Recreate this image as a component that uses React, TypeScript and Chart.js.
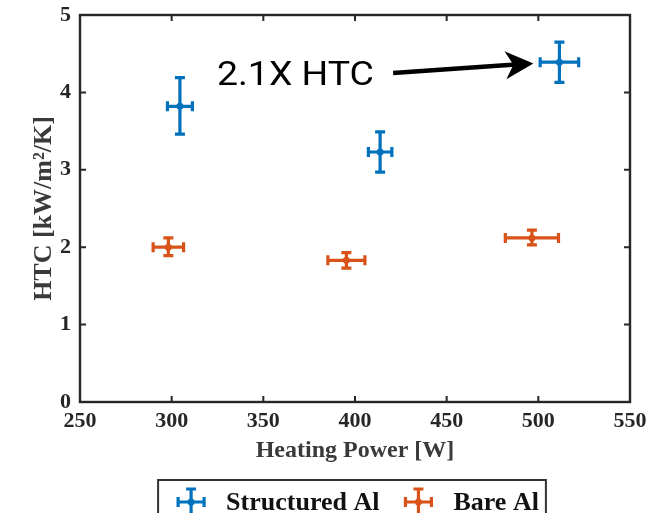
import React, { useEffect, useRef } from "react";
import { Chart, registerables } from "chart.js";

Chart.register(...registerables);

// ---- data ----
const structuredPower = [304.5, 413.7, 511.5];
const structuredHTC = [3.82, 3.23, 4.39];
const structuredHTCErrLow = [0.36, 0.26, 0.26];
const structuredHTCErrHigh = [0.37, 0.26, 0.26];
const structuredPowerErr = [6.8, 6.4, 10.5];

const barePower = [298.2, 395.3, 496.5];
const bareHTC = [2.0, 1.83, 2.12];
const bareHTCErrLow = [0.11, 0.1, 0.09];
const bareHTCErrHigh = [0.12, 0.1, 0.1];
const barePowerErr = [8.3, 10.1, 14.5];

const xTickValues = [250, 300, 350, 400, 450, 500, 550];
const yTickValues = [0, 1, 2, 3, 4, 5];

const seriesNames = ["Structured Al", "Bare Al"];
const xTitle = "Heating Power [W]";
const yTitle = "HTC [kW/m\u00B2/K]";

const annotationText = "2.1X HTC";
const annotationTextAt = [324.7, 4.095]; // (power, HTC) of text left/baseline
const arrowFrom = [420.8, 4.25];
const arrowTo = [497.3, 4.375];

// ---- styles ----
const SERIF = "'Liberation Serif', 'Times New Roman', serif";
const BLUE = "#0072BD";
const ORANGE = "#D95319";
const AXIS = "#262626";

function drawErrorGlyph(ctx: CanvasRenderingContext2D, cx: number, cy: number, color: string) {
  const h = 13;
  const cap = 5;
  ctx.save();
  ctx.strokeStyle = color;
  ctx.fillStyle = color;
  ctx.lineWidth = 3.2;
  ctx.beginPath();
  ctx.moveTo(cx - h, cy); ctx.lineTo(cx + h, cy);
  ctx.moveTo(cx, cy - h); ctx.lineTo(cx, cy + h);
  ctx.moveTo(cx - h, cy - cap); ctx.lineTo(cx - h, cy + cap);
  ctx.moveTo(cx + h, cy - cap); ctx.lineTo(cx + h, cy + cap);
  ctx.moveTo(cx - cap, cy - h); ctx.lineTo(cx + cap, cy - h);
  ctx.moveTo(cx - cap, cy + h); ctx.lineTo(cx + cap, cy + h);
  ctx.stroke();
  ctx.beginPath();
  ctx.arc(cx, cy, 3.5, 0, Math.PI * 2);
  ctx.fill();
  ctx.restore();
}

const errorBarPlugin = {
  id: "errorBars",
  beforeDatasetsDraw(chart: any) {
    const { ctx, scales } = chart;
    const x = scales.x;
    const y = scales.y;
    chart.data.datasets.forEach((ds: any, i: number) => {
      if (!chart.isDatasetVisible(i)) return;
      ctx.save();
      ctx.strokeStyle = ds.borderColor;
      ctx.lineWidth = 3.2;
      ds.data.forEach((p: any) => {
        const cx = x.getPixelForValue(p.x);
        const cy = y.getPixelForValue(p.y);
        const xl = x.getPixelForValue(p.x - p.xErr);
        const xr = x.getPixelForValue(p.x + p.xErr);
        const yt = y.getPixelForValue(p.y + p.yErrHigh);
        const yb = y.getPixelForValue(p.y - p.yErrLow);
        const cap = 5;
        ctx.beginPath();
        ctx.moveTo(xl, cy); ctx.lineTo(xr, cy);
        ctx.moveTo(cx, yt); ctx.lineTo(cx, yb);
        ctx.moveTo(xl, cy - cap); ctx.lineTo(xl, cy + cap);
        ctx.moveTo(xr, cy - cap); ctx.lineTo(xr, cy + cap);
        ctx.moveTo(cx - cap, yt); ctx.lineTo(cx + cap, yt);
        ctx.moveTo(cx - cap, yb); ctx.lineTo(cx + cap, yb);
        ctx.stroke();
      });
      ctx.restore();
    });
  },
};

const framePlugin = {
  id: "frame",
  afterDatasetsDraw(chart: any) {
    const { ctx, chartArea, scales } = chart;
    const { left, right, top, bottom } = chartArea;
    const tl = 6;
    ctx.save();
    ctx.strokeStyle = AXIS;
    ctx.lineWidth = 2;
    ctx.beginPath();
    xTickValues.forEach((v) => {
      const px = scales.x.getPixelForValue(v);
      ctx.moveTo(px, bottom); ctx.lineTo(px, bottom - tl);
      ctx.moveTo(px, top); ctx.lineTo(px, top + tl);
    });
    yTickValues.forEach((v) => {
      const py = scales.y.getPixelForValue(v);
      ctx.moveTo(left, py); ctx.lineTo(left + tl, py);
      ctx.moveTo(right, py); ctx.lineTo(right - tl, py);
    });
    ctx.stroke();
    ctx.lineWidth = 2.4;
    ctx.strokeRect(left, top, right - left, bottom - top);
    ctx.restore();
  },
};

const annotationPlugin = {
  id: "annotationArrow",
  afterDraw(chart: any) {
    const { ctx, scales } = chart;
    const x = scales.x;
    const y = scales.y;
    // text
    const tx = x.getPixelForValue(annotationTextAt[0]);
    const ty = y.getPixelForValue(annotationTextAt[1]);
    ctx.save();
    ctx.fillStyle = "#000";
    ctx.textBaseline = "alphabetic";
    ctx.textAlign = "left";
    ctx.font = "400 34px Roboto, 'Noto Sans', sans-serif";
    const w = ctx.measureText(annotationText).width;
    const sx = 157 / w;
    ctx.translate(tx, ty);
    ctx.scale(sx, 1);
    ctx.fillText(annotationText, 0, 0);
    ctx.restore();

    // arrow
    const x0 = x.getPixelForValue(arrowFrom[0]);
    const y0 = y.getPixelForValue(arrowFrom[1]);
    const x1 = x.getPixelForValue(arrowTo[0]);
    const y1 = y.getPixelForValue(arrowTo[1]);
    const ang = Math.atan2(y1 - y0, x1 - x0);
    const headLen = 28;
    const headHalf = 14;
    const back = 20;
    ctx.save();
    ctx.translate(x1, y1);
    ctx.rotate(ang);
    const len = Math.hypot(x1 - x0, y1 - y0);
    ctx.fillStyle = "#000";
    ctx.strokeStyle = "#000";
    ctx.lineWidth = 4.5;
    ctx.beginPath();
    ctx.moveTo(-len, 0);
    ctx.lineTo(-back + 2, 0);
    ctx.stroke();
    ctx.beginPath();
    ctx.moveTo(0, 0);
    ctx.lineTo(-headLen, -headHalf);
    ctx.lineTo(-back, 0);
    ctx.lineTo(-headLen, headHalf);
    ctx.closePath();
    ctx.fill();
    ctx.restore();
  },
};

const legendPlugin = {
  id: "customLegend",
  afterDraw(chart: any) {
    const { ctx, chartArea } = chart;
    const colors = [BLUE, ORANGE];
    ctx.save();
    ctx.font = `bold 26px ${SERIF}`;
    const padL = 33; // box edge to first glyph centre
    const glyphToText = 35;
    const textToGlyph = 39;
    const padR = 7;
    const widths = seriesNames.map((n) => ctx.measureText(n).width);
    let total = padL + padR;
    widths.forEach((w, i) => {
      total += glyphToText + w + (i < widths.length - 1 ? textToGlyph : 0);
    });
    const cxChart = (chartArea.left + chartArea.right) / 2;
    const boxL = cxChart - total / 2 - 3;
    const boxT = 480;
    const cy = 502;
    ctx.strokeStyle = "#333";
    ctx.lineWidth = 2;
    ctx.beginPath();
    ctx.moveTo(boxL, chart.height + 10);
    ctx.lineTo(boxL, boxT);
    ctx.lineTo(boxL + total, boxT);
    ctx.lineTo(boxL + total, chart.height + 10);
    ctx.stroke();
    let gx = boxL + padL;
    seriesNames.forEach((name, i) => {
      drawErrorGlyph(ctx, gx, cy, colors[i]);
      const tx = gx + glyphToText;
      ctx.fillStyle = "#111";
      ctx.textBaseline = "middle";
      ctx.textAlign = "left";
      ctx.fillText(name, tx, cy + 1);
      gx = tx + widths[i] + textToGlyph;
    });
    ctx.restore();
  },
};

export default function App() {
  const canvasRef = useRef<HTMLCanvasElement | null>(null);

  useEffect(() => {
    if (!canvasRef.current) return;
    const structuredData = structuredPower.map((p, i) => ({
      x: p,
      y: structuredHTC[i],
      xErr: structuredPowerErr[i],
      yErrLow: structuredHTCErrLow[i],
      yErrHigh: structuredHTCErrHigh[i],
    }));
    const bareData = barePower.map((p, i) => ({
      x: p,
      y: bareHTC[i],
      xErr: barePowerErr[i],
      yErrLow: bareHTCErrLow[i],
      yErrHigh: bareHTCErrHigh[i],
    }));
    const chart = new Chart(canvasRef.current, {
      type: "scatter",
      data: {
        datasets: [
          {
            label: seriesNames[0],
            data: structuredData as any,
            borderColor: BLUE,
            backgroundColor: BLUE,
            pointRadius: 3.5,
            pointBorderWidth: 0,
          },
          {
            label: seriesNames[1],
            data: bareData as any,
            borderColor: ORANGE,
            backgroundColor: ORANGE,
            pointRadius: 3.5,
            pointBorderWidth: 0,
          },
        ],
      },
      options: {
        animation: false,
        responsive: true,
        maintainAspectRatio: false,
        layout: { padding: { top: 15, right: 31, left: 0, bottom: 0 } },
        plugins: {
          legend: { display: false },
          tooltip: { enabled: false },
        },
        scales: {
          x: {
            type: "linear",
            min: 250,
            max: 550,
            afterBuildTicks: (scale: any) => {
              scale.ticks = xTickValues.map((v) => ({ value: v }));
            },
            ticks: {
              color: AXIS,
              padding: 6,
              maxRotation: 0,
              font: { family: SERIF, size: 22, weight: "bold" },
            },
            grid: { display: false, drawTicks: false },
            border: { display: false },
            title: {
              display: true,
              text: xTitle,
              color: "#3a3a3a",
              font: { family: SERIF, size: 24, weight: "bold" },
              padding: { top: 0, bottom: 48 },
            },
            afterFit: (scale: any) => {
              scale.height = 111;
              scale.paddingLeft = 0;
              scale.paddingRight = 0;
            },
          },
          y: {
            type: "linear",
            min: 0,
            max: 5,
            afterBuildTicks: (scale: any) => {
              scale.ticks = yTickValues.map((v) => ({ value: v }));
            },
            ticks: {
              color: AXIS,
              padding: 9,
              font: { family: SERIF, size: 22, weight: "bold" },
            },
            grid: { display: false, drawTicks: false },
            border: { display: false },
            title: {
              display: true,
              text: yTitle,
              color: "#3a3a3a",
              font: { family: SERIF, size: 26, weight: "bold" },
              padding: { top: 29, bottom: 0 },
            },
            afterFit: (scale: any) => {
              scale.width = 80;
              scale.paddingTop = 0;
              scale.paddingBottom = 0;
            },
          },
        },
      },
      plugins: [errorBarPlugin, framePlugin, annotationPlugin, legendPlugin],
    });
    return () => chart.destroy();
  }, []);

  return (
    <div style={{ position: "absolute", left: 0, top: 0, width: 661, height: 513, background: "#fff" }}>
      <canvas ref={canvasRef} />
    </div>
  );
}
